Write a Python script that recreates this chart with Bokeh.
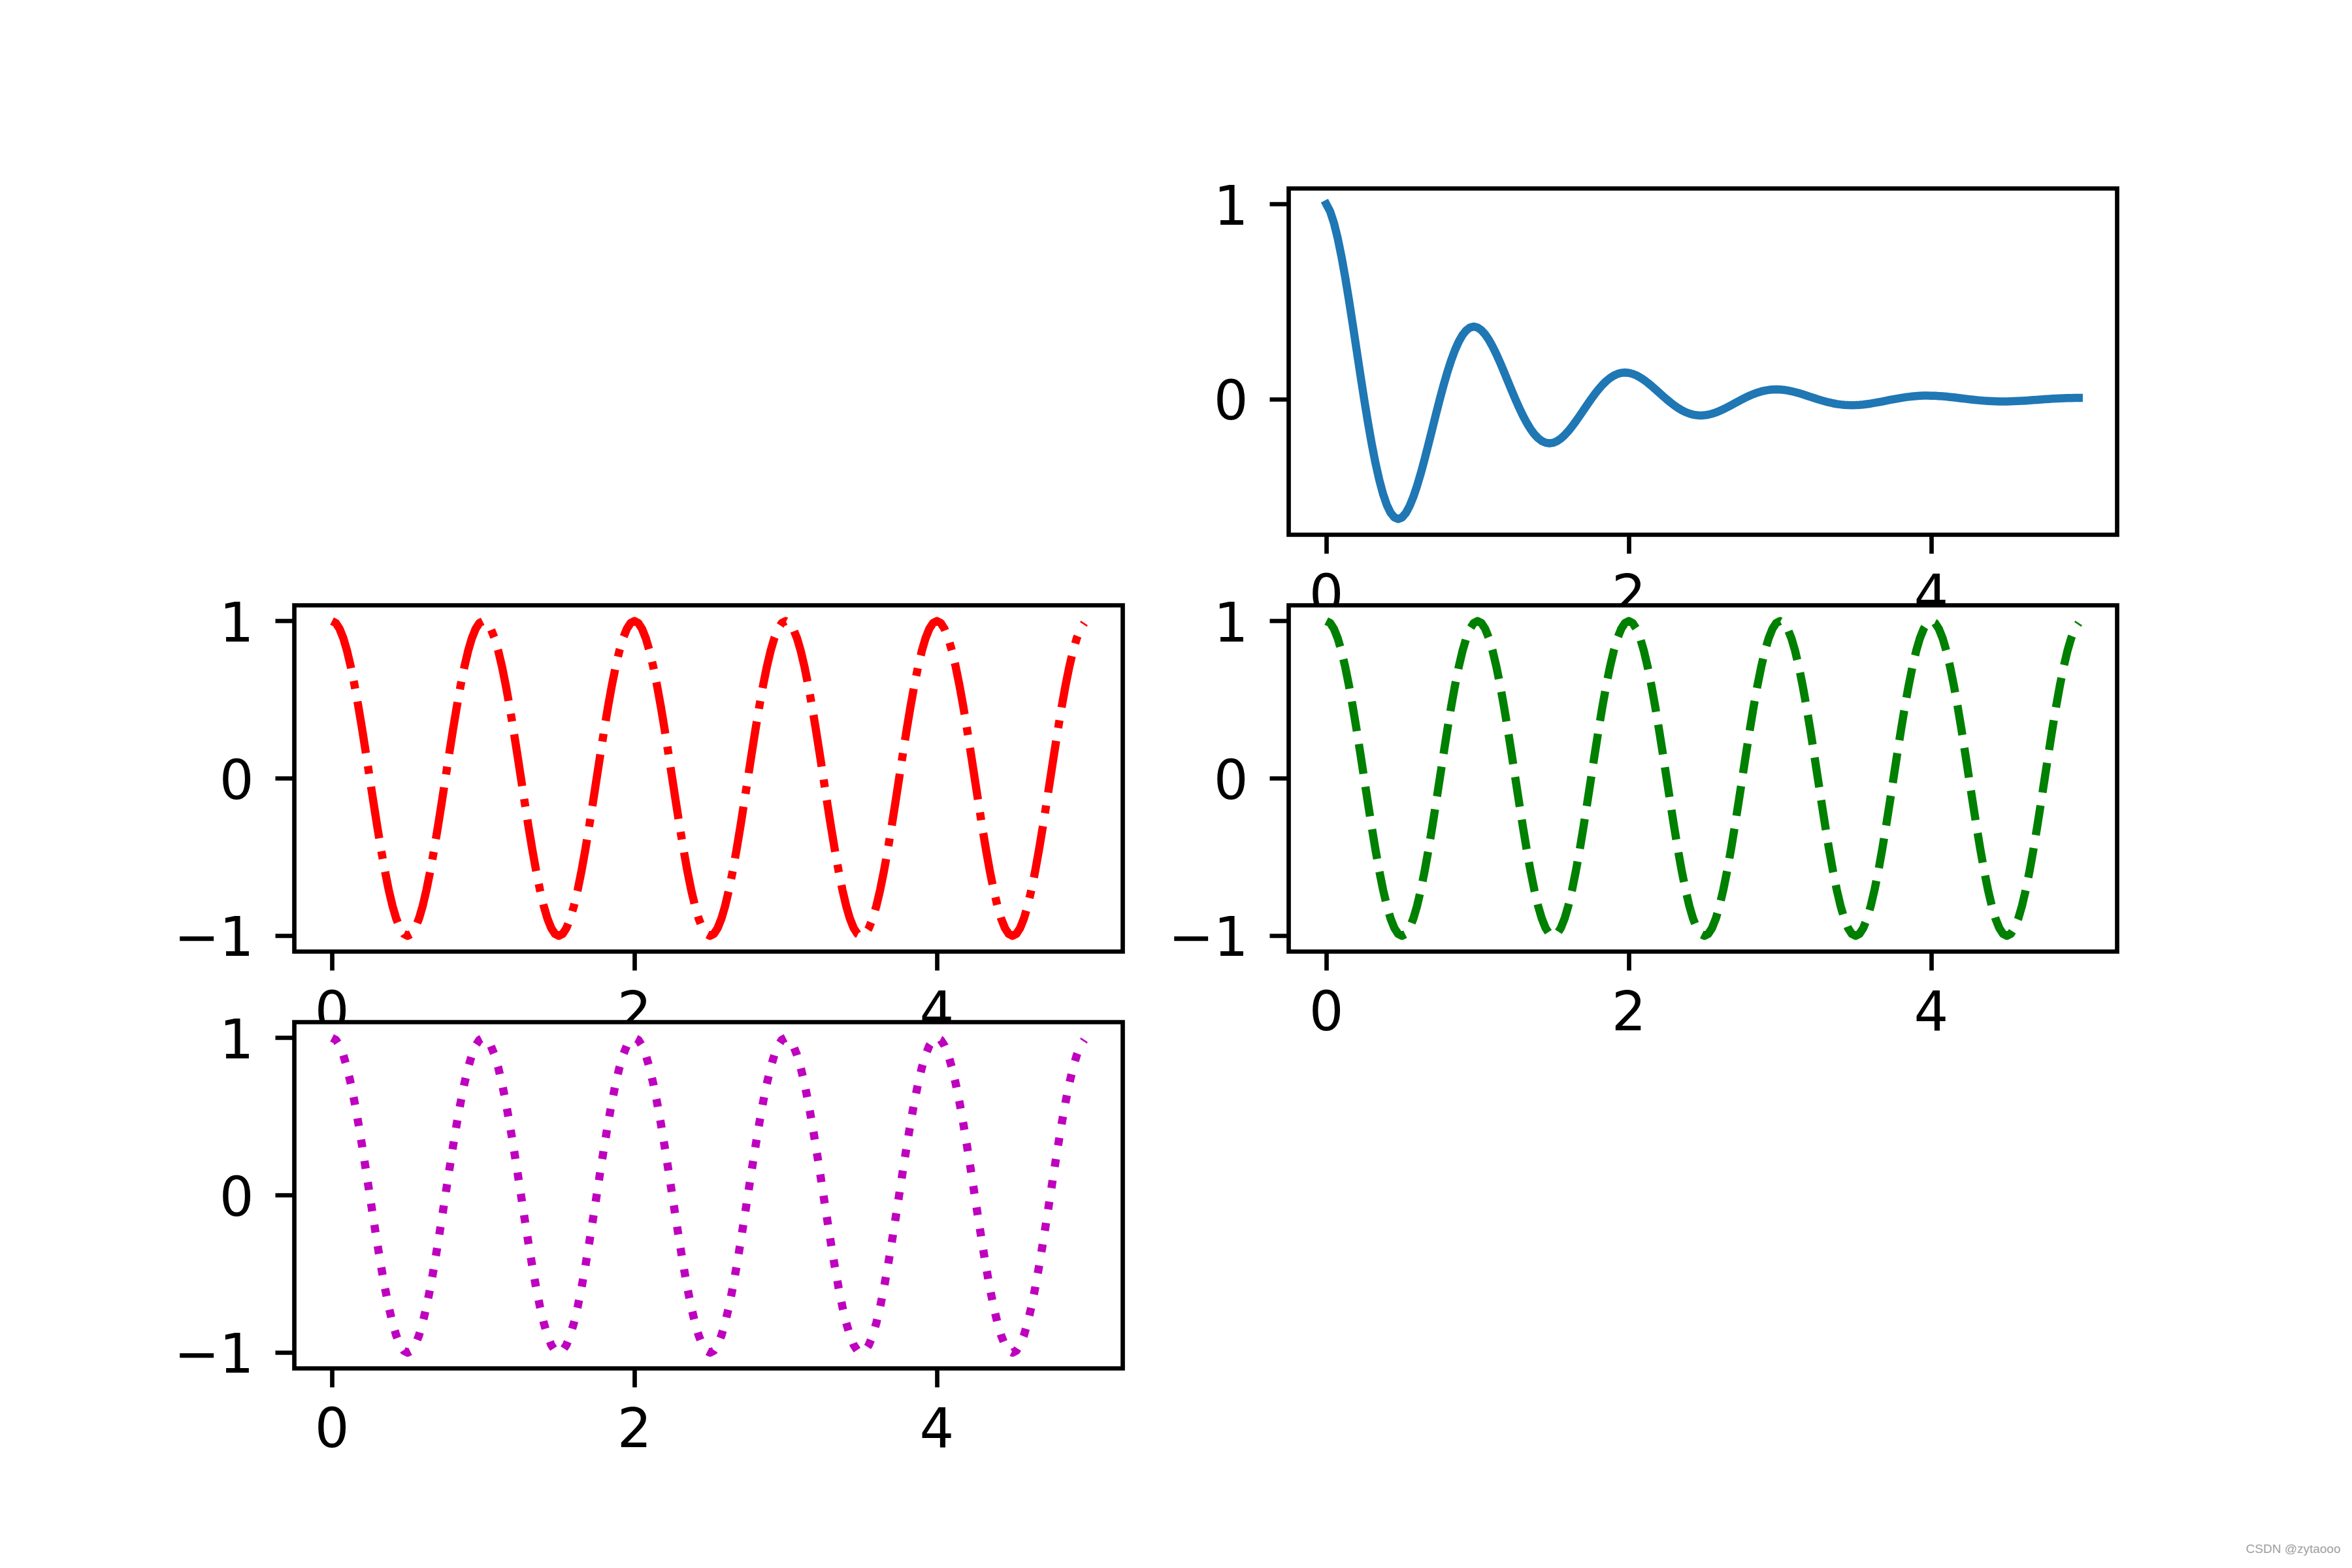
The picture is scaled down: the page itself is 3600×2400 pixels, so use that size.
from bokeh.plotting import figure
from bokeh.models import Range1d, LinearAxis, FixedTicker, Label
from bokeh.embed import file_html
from bokeh.resources import INLINE

# ---------------- data ----------------
t = [
    0.000, 0.025, 0.050, 0.075, 0.100, 0.125, 0.150, 0.175, 0.200, 0.225,
    0.250, 0.275, 0.300, 0.325, 0.350, 0.375, 0.400, 0.425, 0.450, 0.475,
    0.500, 0.525, 0.550, 0.575, 0.600, 0.625, 0.650, 0.675, 0.700, 0.725,
    0.750, 0.775, 0.800, 0.825, 0.850, 0.875, 0.900, 0.925, 0.950, 0.975,
    1.000, 1.025, 1.050, 1.075, 1.100, 1.125, 1.150, 1.175, 1.200, 1.225,
    1.250, 1.275, 1.300, 1.325, 1.350, 1.375, 1.400, 1.425, 1.450, 1.475,
    1.500, 1.525, 1.550, 1.575, 1.600, 1.625, 1.650, 1.675, 1.700, 1.725,
    1.750, 1.775, 1.800, 1.825, 1.850, 1.875, 1.900, 1.925, 1.950, 1.975,
    2.000, 2.025, 2.050, 2.075, 2.100, 2.125, 2.150, 2.175, 2.200, 2.225,
    2.250, 2.275, 2.300, 2.325, 2.350, 2.375, 2.400, 2.425, 2.450, 2.475,
    2.500, 2.525, 2.550, 2.575, 2.600, 2.625, 2.650, 2.675, 2.700, 2.725,
    2.750, 2.775, 2.800, 2.825, 2.850, 2.875, 2.900, 2.925, 2.950, 2.975,
    3.000, 3.025, 3.050, 3.075, 3.100, 3.125, 3.150, 3.175, 3.200, 3.225,
    3.250, 3.275, 3.300, 3.325, 3.350, 3.375, 3.400, 3.425, 3.450, 3.475,
    3.500, 3.525, 3.550, 3.575, 3.600, 3.625, 3.650, 3.675, 3.700, 3.725,
    3.750, 3.775, 3.800, 3.825, 3.850, 3.875, 3.900, 3.925, 3.950, 3.975,
    4.000, 4.025, 4.050, 4.075, 4.100, 4.125, 4.150, 4.175, 4.200, 4.225,
    4.250, 4.275, 4.300, 4.325, 4.350, 4.375, 4.400, 4.425, 4.450, 4.475,
    4.500, 4.525, 4.550, 4.575, 4.600, 4.625, 4.650, 4.675, 4.700, 4.725,
    4.750, 4.775, 4.800, 4.825, 4.850, 4.875, 4.900, 4.925, 4.950, 4.975,
]

damped = [
    1.0000, 0.9633, 0.9047, 0.8266, 0.7320, 0.6240, 0.5059, 0.3811, 0.2530, 0.1249,
    0.0000, -0.1188, -0.2289, -0.3280, -0.4142, -0.4860, -0.5423, -0.5825, -0.6064, -0.6142,
    -0.6065, -0.5843, -0.5487, -0.5013, -0.4440, -0.3785, -0.3069, -0.2311, -0.1535, -0.0757,
    0.0000, 0.0721, 0.1389, 0.1989, 0.2512, 0.2948, 0.3289, 0.3533, 0.3678, 0.3725,
    0.3679, 0.3544, 0.3328, 0.3041, 0.2693, 0.2296, 0.1861, 0.1402, 0.0931, 0.0459,
    0.0000, -0.0437, -0.0842, -0.1207, -0.1524, -0.1788, -0.1995, -0.2143, -0.2231, -0.2260,
    -0.2231, -0.2149, -0.2019, -0.1844, -0.1633, -0.1392, -0.1129, -0.0850, -0.0565, -0.0279,
    0.0000, 0.0265, 0.0511, 0.0732, 0.0924, 0.1084, 0.1210, 0.1300, 0.1353, 0.1371,
    0.1353, 0.1303, 0.1224, 0.1118, 0.0991, 0.0845, 0.0685, 0.0516, 0.0342, 0.0169,
    0.0000, -0.0161, -0.0310, -0.0444, -0.0561, -0.0658, -0.0734, -0.0788, -0.0821, -0.0831,
    -0.0821, -0.0791, -0.0743, -0.0679, -0.0601, -0.0512, -0.0416, -0.0313, -0.0208, -0.0103,
    0.0000, 0.0097, 0.0188, 0.0269, 0.0340, 0.0399, 0.0445, 0.0478, 0.0497, 0.0504,
    0.0498, 0.0480, 0.0451, 0.0412, 0.0364, 0.0310, 0.0252, 0.0190, 0.0126, 0.0062,
    0.0000, -0.0059, -0.0114, -0.0163, -0.0206, -0.0242, -0.0270, -0.0290, -0.0301, -0.0305,
    -0.0302, -0.0291, -0.0273, -0.0249, -0.0221, -0.0188, -0.0153, -0.0115, -0.0076, -0.0038,
    0.0000, 0.0036, 0.0069, 0.0099, 0.0125, 0.0147, 0.0163, 0.0176, 0.0184, 0.0186,
    0.0183, 0.0176, 0.0165, 0.0151, 0.0134, 0.0114, 0.0093, 0.0070, 0.0046, 0.0023,
    0.0000, -0.0022, -0.0042, -0.0060, -0.0076, -0.0089, -0.0100, -0.0107, -0.0111, -0.0113,
    -0.0111, -0.0107, -0.0101, -0.0092, -0.0082, -0.0070, -0.0056, -0.0042, -0.0028, -0.0014,
    0.0000, 0.0013, 0.0025, 0.0036, 0.0046, 0.0054, 0.0060, 0.0064, 0.0068, 0.0068,
]

cos_wave = [
    1.0000, 0.9877, 0.9511, 0.8910, 0.8090, 0.7071, 0.5878, 0.4540, 0.3090, 0.1564,
    0.0000, -0.1564, -0.3090, -0.4540, -0.5878, -0.7071, -0.8090, -0.8910, -0.9511, -0.9877,
    -1.0000, -0.9877, -0.9511, -0.8910, -0.8090, -0.7071, -0.5878, -0.4540, -0.3090, -0.1564,
    0.0000, 0.1564, 0.3090, 0.4540, 0.5878, 0.7071, 0.8090, 0.8910, 0.9511, 0.9877,
    1.0000, 0.9877, 0.9511, 0.8910, 0.8090, 0.7071, 0.5878, 0.4540, 0.3090, 0.1564,
    0.0000, -0.1564, -0.3090, -0.4540, -0.5878, -0.7071, -0.8090, -0.8910, -0.9511, -0.9877,
    -1.0000, -0.9877, -0.9511, -0.8910, -0.8090, -0.7071, -0.5878, -0.4540, -0.3090, -0.1564,
    0.0000, 0.1564, 0.3090, 0.4540, 0.5878, 0.7071, 0.8090, 0.8910, 0.9511, 0.9877,
    1.0000, 0.9877, 0.9511, 0.8910, 0.8090, 0.7071, 0.5878, 0.4540, 0.3090, 0.1564,
    0.0000, -0.1564, -0.3090, -0.4540, -0.5878, -0.7071, -0.8090, -0.8910, -0.9511, -0.9877,
    -1.0000, -0.9877, -0.9511, -0.8910, -0.8090, -0.7071, -0.5878, -0.4540, -0.3090, -0.1564,
    0.0000, 0.1564, 0.3090, 0.4540, 0.5878, 0.7071, 0.8090, 0.8910, 0.9511, 0.9877,
    1.0000, 0.9877, 0.9511, 0.8910, 0.8090, 0.7071, 0.5878, 0.4540, 0.3090, 0.1564,
    0.0000, -0.1564, -0.3090, -0.4540, -0.5878, -0.7071, -0.8090, -0.8910, -0.9511, -0.9877,
    -1.0000, -0.9877, -0.9511, -0.8910, -0.8090, -0.7071, -0.5878, -0.4540, -0.3090, -0.1564,
    0.0000, 0.1564, 0.3090, 0.4540, 0.5878, 0.7071, 0.8090, 0.8910, 0.9511, 0.9877,
    1.0000, 0.9877, 0.9511, 0.8910, 0.8090, 0.7071, 0.5878, 0.4540, 0.3090, 0.1564,
    0.0000, -0.1564, -0.3090, -0.4540, -0.5878, -0.7071, -0.8090, -0.8910, -0.9511, -0.9877,
    -1.0000, -0.9877, -0.9511, -0.8910, -0.8090, -0.7071, -0.5878, -0.4540, -0.3090, -0.1564,
    0.0000, 0.1564, 0.3090, 0.4540, 0.5878, 0.7071, 0.8090, 0.8910, 0.9511, 0.9877,
]

x_ticks = [0, 2, 4]
cos_y_ticks = [-1, 0, 1]
damped_y_ticks = [0, 1]
x_limits = (-0.249, 5.229)
cos_y_limits = (-1.1, 1.1)
damped_y_limits = (-0.695, 1.081)
watermark = "CSDN @zytaooo"

# ---------------- layout / style ----------------
W, H = 3584, 2384
OFF = 0
PX_PER_PT = 600 / 72.0

p = figure(width=W, height=H, output_backend="svg", toolbar_location=None,
           x_range=Range1d(0, W), y_range=Range1d(0, H),
           x_axis_location=None, y_axis_location=None, min_border=0,
           outline_line_color=None, background_fill_color="white",
           border_fill_color="white")
p.grid.visible = False

panels = [
    dict(name="tr", box=(1972, 288, 3240, 818), ys=damped, ylim=damped_y_limits,
         yticks=damped_y_ticks, color="#1f77b4", dash="solid", cap="square", layer=0),
    dict(name="ml", box=(450, 926, 1718, 1456), ys=cos_wave, ylim=cos_y_limits,
         yticks=cos_y_ticks, color="#ff0000", dash="80 20 12 20", cap="butt", layer=0),
    dict(name="mr", box=(1972, 926, 3240, 1456), ys=cos_wave, ylim=cos_y_limits,
         yticks=cos_y_ticks, color="#008000", dash="46 20", cap="butt", layer=1),
    dict(name="bl", box=(450, 1564, 1718, 2094), ys=cos_wave, ylim=cos_y_limits,
         yticks=cos_y_ticks, color="#bf00bf", dash="12 21", cap="butt", layer=1),
]

xr, yr = {}, {}
for pn in panels:
    L, T, R, B = [v - OFF for v in pn["box"]]
    x0, x1 = x_limits
    y0, y1 = pn["ylim"]
    sx = (x1 - x0) / (R - L)
    xs = x0 - L * sx
    xr[pn["name"]] = Range1d(xs, xs + W * sx)
    sy = (y1 - y0) / (B - T)
    ys_ = y0 - (H - B) * sy
    yr[pn["name"]] = Range1d(ys_, ys_ + H * sy)
p.extra_x_ranges = xr
p.extra_y_ranges = yr

SPINE_W = 0.8 * PX_PER_PT
LINE_W = 1.5 * PX_PER_PT
TICK_LEN = int(round(3.5 * PX_PER_PT))
FONT_SIZE = "83px"


def style_axis(ax, ticks, level, standoff):
    ax.ticker = FixedTicker(ticks=ticks)
    ax.axis_line_color = None
    ax.major_tick_out = TICK_LEN
    ax.major_tick_in = 0
    ax.major_tick_line_width = SPINE_W
    ax.major_tick_line_color = "black"
    ax.minor_tick_line_color = None
    ax.major_label_text_font = "DejaVu Sans"
    ax.major_label_text_font_size = FONT_SIZE
    ax.major_label_text_color = "black"
    ax.major_label_standoff = standoff
    ax.major_label_overrides = {-1: "\u22121"}
    ax.level = level


for pn in panels:
    n = pn["name"]
    x0, x1 = x_limits
    y0, y1 = pn["ylim"]
    if pn["layer"] == 0:
        bg_lvl, line_lvl, out_lvl, ax_lvl = None, "underlay", "underlay", "glyph"
    else:
        bg_lvl, line_lvl, out_lvl, ax_lvl = "guide", "guide", "annotation", "annotation"

    if bg_lvl:
        p.quad(left=[x0], right=[x1], bottom=[y0], top=[y1], fill_color="white",
               line_color=None, x_range_name=n, y_range_name=n, level=bg_lvl)

    p.line(t, pn["ys"], line_color=pn["color"], line_width=LINE_W,
           line_dash=pn["dash"], line_cap=pn["cap"], line_join="round",
           x_range_name=n, y_range_name=n, level=line_lvl)

    p.quad(left=[x0], right=[x1], bottom=[y0], top=[y1], fill_color=None,
           line_color="black", line_width=SPINE_W, line_join="miter",
           x_range_name=n, y_range_name=n, level=out_lvl)

    xa = LinearAxis(x_range_name=n, y_range_name=n, fixed_location=y0, bounds=(x0, x1))
    style_axis(xa, x_ticks, ax_lvl, 29)
    p.add_layout(xa, "below")

    ya = LinearAxis(x_range_name=n, y_range_name=n, fixed_location=x0, bounds=(y0, y1))
    style_axis(ya, pn["yticks"], ax_lvl, 33)
    p.add_layout(ya, "left")

p.add_layout(Label(x=W - 2, y=14, x_units="screen", y_units="screen", text=watermark,
                   text_align="right", text_baseline="middle", text_font_size="19px",
                   text_color="#a0a0a0", text_font="Liberation Sans"))

open("out.html", "w").write(file_html(p, INLINE))
